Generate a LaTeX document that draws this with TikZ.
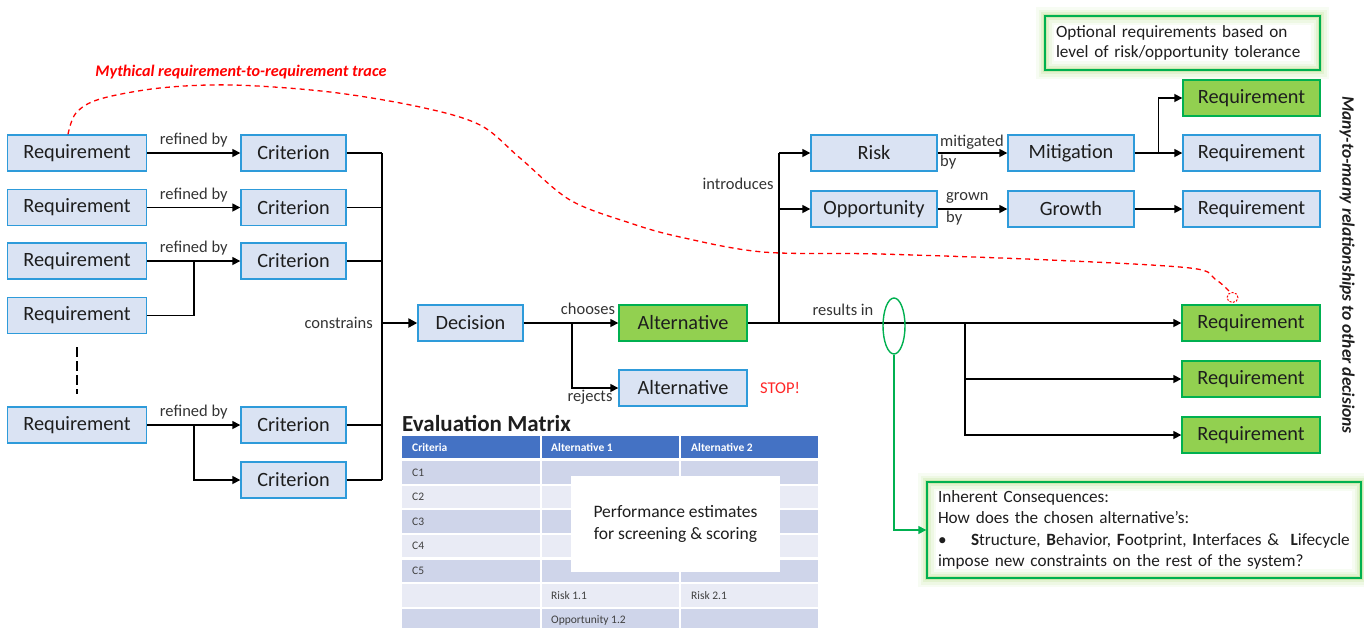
\documentclass[tikz,border=0pt]{standalone}
\usepackage{fontspec}
\setmainfont{Carlito}
\usetikzlibrary{arrows.meta,shapes.geometric,calc}
\definecolor{bfill}{HTML}{DAE3F3}
\definecolor{bbord}{HTML}{2E9BDA}
\definecolor{gfill}{HTML}{92D050}
\definecolor{gbord}{HTML}{00B050}
\definecolor{glowc}{HTML}{92D050}
\definecolor{thead}{HTML}{4472C4}
\definecolor{tdark}{HTML}{CFD5EA}
\definecolor{tlight}{HTML}{E9EBF5}
\definecolor{txt}{HTML}{1E1E1E}
\definecolor{lbltxt}{HTML}{333333}
\definecolor{celltxt}{HTML}{404040}
\begin{document}
\begin{tikzpicture}[x=1pt,y=-1pt,
  box/.style={draw=bbord, fill=bfill, line width=1.4pt, minimum height=36pt, inner sep=0pt, text=txt, font=\fontsize{20.3}{23}\selectfont},
  gbox/.style={box, draw=gbord, fill=gfill},
  conn/.style={line width=1.6pt, -{Triangle[length=8pt,width=8pt]}},
  wire/.style={line width=1.6pt},
  lbl/.style={font=\fontsize{16.5}{19}\selectfont, text=lbltxt, inner sep=0pt},
  glowbox/.style={draw=gbord, line width=1.4pt, text=txt,
    preaction={draw=glowc, line width=18pt, opacity=0.07},
    preaction={draw=glowc, line width=13pt, opacity=0.09},
    preaction={draw=glowc, line width=8pt, opacity=0.14},
    preaction={draw=glowc, line width=4pt, opacity=0.25}},
  cell/.style={anchor=west, inner sep=0pt, font=\fontsize{11.5}{13}\selectfont, text=celltxt},
]
\useasboundingbox (0,0) rectangle (1364,627);

% ---------- left column ----------
\foreach \n/\y in {R1/153,R2/207.5,R3/261,R4/315.5,R5/425}
  \node[box, minimum width=139pt] (\n) at (77,\y) {Requirement};
\foreach \n/\y in {C1/153,C2/207.5,C3/261,C4/425,C5/480}
  \node[box, minimum width=105pt] (\n) at (293.5,\y) {Criterion};

\draw[conn] (R1.east) -- node[lbl, above=5pt] {refined by} (C1.west);
\draw[conn] (R2.east) -- node[lbl, above=5pt] {refined by} (C2.west);
\draw[conn] (R3.east) -- node[lbl, above=5pt] {refined by} (C3.west);
\coordinate (j3) at (194,261);
\draw[wire] (R4.east) -| (j3);
\draw[conn] (R5.east) -- node[lbl, above=5pt] {refined by} (C4.west);
\coordinate (j5) at (194,425);
\draw[conn] (j5) |- (C5.west);

\coordinate (dt) at (77,347);
\coordinate (db) at (77,394);
\draw[line width=1.6pt, dash pattern=on 10pt off 4pt] (dt) -- (db);

% bus to decision
\coordinate (bt) at (382,153);
\coordinate (bb) at (382,480);
\coordinate (bm) at (382,323);
\foreach \n/\y in {C1/153,C2/207.5,C3/261,C4/425,C5/480}
  \draw[wire] (\n.east) -- (382,\y);
\draw[wire] (bt) -- (bb);

\node[box, minimum width=105pt] (D) at (470.5,323) {Decision};
\draw[line width=2.4pt, -{Triangle[length=9pt,width=9pt]}] (bm) -- (D.west);
\node[lbl, anchor=east] at (373,323) {constrains};

% alternatives
\node[gbox, minimum width=128pt] (A1) at (683,323) {Alternative};
\node[box, minimum width=128pt] (A2) at (683,388) {Alternative};
\draw[conn] (D.east) -- (A1.west);
\node[lbl] at (588,309) {chooses};
\coordinate (sp) at (572,323);
\draw[conn] (sp) |- (A2.west);
\node[lbl] at (590,397) {rejects};
\node[font=\fontsize{16.5}{19}\selectfont, text=red!85!white, inner sep=0pt] (stop) at (780,388) {STOP!};

% risk/opportunity
\node[box, minimum width=126pt] (Rk) at (874,153) {Risk};
\node[box, minimum width=126pt] (Op) at (874,209) {Opportunity};
\node[box, minimum width=126pt] (Mi) at (1071,153) {Mitigation};
\node[box, minimum width=126pt] (Gr) at (1071,209) {Growth};
\node[gbox, minimum width=137pt] (RT) at (1251.5,98) {Requirement};
\node[box, minimum width=137pt] (RM) at (1251.5,153) {Requirement};
\node[box, minimum width=137pt] (RG) at (1251.5,209) {Requirement};

\coordinate (ib) at (779,323);
\coordinate (it) at (779,153);
\draw[wire] (ib) -- (it);
\draw[conn] (it) -- (Rk.west);
\draw[conn] (779,209) -- (Op.west);
\node[lbl] at (738,184) {introduces};

\draw[conn] (Rk.east) -- (Mi.west);
\node[lbl, anchor=west] at (940,142) {mitigated};
\node[lbl, anchor=west] at (940,162) {by};
\draw[conn] (Op.east) -- (Gr.west);
\node[lbl, anchor=west] at (946,198) {grown};
\node[lbl, anchor=west] at (946,218) {by};

\draw[conn] (Mi.east) -- (RM.west);
\coordinate (mj) at (1158.5,153);
\draw[conn] (mj) |- (RT.west);
\draw[conn] (Gr.east) -- (RG.west);

\node[glowbox, minimum width=275pt, minimum height=54pt, text width=253pt, align=left, inner xsep=11pt, inner ysep=0pt, font=\fontsize{17.2}{20}\selectfont] (opt) at (1182.5,43) {Optional requirements based on\\level of risk/opportunity tolerance};

% results
\node[gbox, minimum width=138pt] (G1) at (1251,323) {Requirement};
\node[gbox, minimum width=138pt] (G2) at (1251,379) {Requirement};
\node[gbox, minimum width=138pt] (G3) at (1251,435) {Requirement};
\draw[conn] (A1.east) -- (G1.west);
\node[lbl] at (843,310) {results in};
\coordinate (rj) at (965,323);
\draw[conn] (rj) |- (G2.west);
\draw[conn] (rj) |- (G3.west);

\node[draw=gbord, line width=1.4pt, ellipse, minimum width=22pt, minimum height=56pt, inner sep=0pt] (el) at (894,326) {};

\node[glowbox, minimum width=434pt, minimum height=96pt, text width=412pt, align=left, inner xsep=11pt, inner ysep=0pt, font=\fontsize{17.2}{21.3}\selectfont] (IC) at (1144,530) {Inherent Consequences:\\How does the chosen alternative’s:\\\makebox[33pt][l]{•}\textbf{S}tructure, \textbf{B}ehavior, \textbf{F}ootprint, \textbf{I}nterfaces \&\ \ \textbf{L}ifecycle\\impose new constraints on the rest of the system?};
\draw[line width=1.4pt, draw=gbord, -{Triangle[length=8pt,width=8pt]}] (el.south) |- (IC.west);

\node[rotate=-90, font=\fontsize{17.5}{20}\selectfont\bfseries\itshape, text=txt, inner sep=0pt] (side) at (1347,265) {Many-to-many relationships to other decisions};

% evaluation matrix
\node[anchor=west, inner sep=0pt, font=\fontsize{23}{26}\selectfont\bfseries, text=txt] (emt) at (402,423) {Evaluation Matrix};
\begin{scope}
\clip (0,0) rectangle (1364,627);
\foreach \xa/\xb in {402/540,541.5/679,680.5/818}
  \fill[thead] (\xa,436) rectangle (\xb,457.5);
\foreach \i/\c in {1/tdark,2/tlight,3/tdark,4/tlight,5/tdark,6/tlight,7/tdark}
  \foreach \xa/\xb in {402/540,541.5/679,680.5/818}
    \fill[\c] (\xa,{461+24.65*(\i-1)}) rectangle (\xb,{483.5+24.65*(\i-1)});
\node[cell, text=white, font=\fontsize{11.5}{13}\selectfont\bfseries] at (412,447) {Criteria};
\node[cell, text=white, font=\fontsize{11.5}{13}\selectfont\bfseries] at (551,447) {Alternative 1};
\node[cell, text=white, font=\fontsize{11.5}{13}\selectfont\bfseries] at (691,447) {Alternative 2};
\foreach \i in {1,...,5}
  \node[cell] at (412,{472.3+24.65*(\i-1)}) {C\i};
\node[cell] at (551,595.5) {Risk 1.1};
\node[cell] at (691,595.5) {Risk 2.1};
\node[cell] at (551,620) {Opportunity 1.2};
\end{scope}
\node[fill=white, minimum width=209pt, minimum height=96pt, inner sep=0pt, align=center, font=\fontsize{17.5}{22}\selectfont, text=txt] (perf) at (675.5,524) {Performance estimates\\for screening \& scoring};

% mythical trace
\node[font=\fontsize{16.2}{19}\selectfont\bfseries\itshape, text=red, inner sep=0pt] (myth) at (241,72) {Mythical requirement-to-requirement trace};
\coordinate (rs) at ([xshift=-9pt]R1.north);
\draw[red, line width=1.3pt, dash pattern=on 5pt off 4pt] plot[smooth, tension=0.55] coordinates {(rs) (76,113) (100,99) (160,88) (233,85) (330,92) (420,107) (480,125) (520,158) (570,200) (630,223) (680,237) (763,252) (880,254) (1050,260) (1190,268) (1215,279) (1230,292)};
\draw[red, line width=1pt, dash pattern=on 2pt off 1.5pt] (1232.5,297.5) ellipse (5.5pt and 5pt);
\end{tikzpicture}
\end{document}
